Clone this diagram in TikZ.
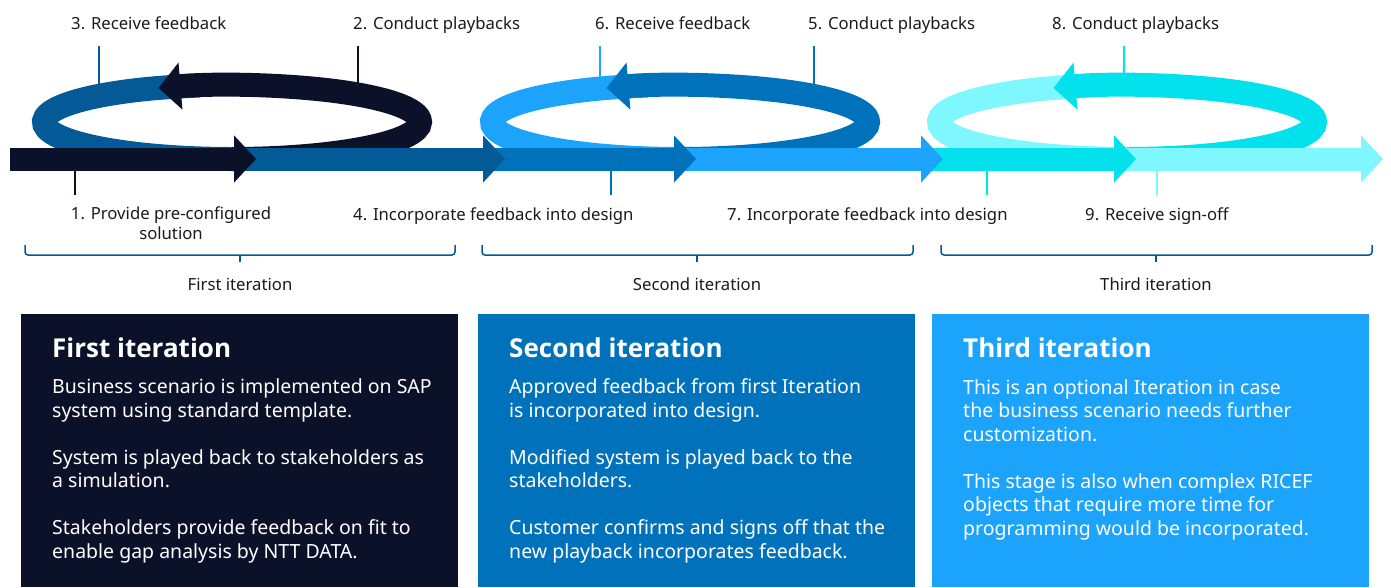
\documentclass[tikz,border=0pt]{standalone}
\usepackage{fontspec}
\setmainfont{Noto Sans}
\newfontfamily\titlefont{Open Sans}
\usepackage{tikz}
\usetikzlibrary{positioning}
\usetikzlibrary{arrows.meta,calc}

\definecolor{navy}{HTML}{0A1128}
\definecolor{blueA}{HTML}{035A96}
\definecolor{blueB}{HTML}{0072BC}
\definecolor{blueC}{HTML}{1CA3FC}
\definecolor{cyanA}{HTML}{03E1ED}
\definecolor{cyanB}{HTML}{7FF7FF}
\definecolor{ink}{HTML}{1A1A1A}

\begin{document}
\begin{tikzpicture}[x=1pt,y=1pt,
 band/.style={line width=23pt,-{Triangle[width=46pt,length=22pt]}},
 loop/.style={line width=24pt},
 loophead/.style={line width=24pt,-{Triangle[width=46pt,length=22pt]}},
 lead/.style={line width=1.5pt},
 brace/.style={line width=1.5pt,blueA,rounded corners=3pt},
 lbl/.style={font=\fontsize{16.7}{20}\selectfont,text=ink,inner sep=0pt},
 box/.style={minimum width=437pt,minimum height=273pt,inner sep=0pt,anchor=north west},
 boxtitle/.style={font=\titlefont\fontsize{26}{30}\selectfont\bfseries,text=white,inner sep=0pt,anchor=base west},
 boxtext/.style={font=\fontsize{19.5}{23.5}\selectfont,text=white,inner sep=0pt,align=left,anchor=base west}]
 \useasboundingbox (0,0) rectangle (1391,-587);

 \coordinate (e1) at (232,-122);
 \coordinate (e2) at (680,-122);
 \coordinate (e3) at (1127,-122);
 \coordinate (mid) at (0,-159);

 % leader lines
 \coordinate (t3) at (99,-46);
 \coordinate (t2) at (358,-46);
 \coordinate (t6) at (600,-46);
 \coordinate (t5) at (814,-46);
 \coordinate (t8) at (1124,-46);
 \coordinate (l3) at ($(e1)+(135:188 and 37)$);
 \coordinate (l2) at ($(e1)+(48:188 and 37)$);
 \coordinate (l6) at ($(e2)+(115:188 and 37)$);
 \coordinate (l5) at ($(e2)+(44.5:188 and 37)$);
 \coordinate (l8) at ($(e3)+(91:188 and 37)$);
 \draw[lead,blueA] (t3) -- (t3 |- l3);
 \draw[lead,navy] (t2) -- (t2 |- l2);
 \draw[lead,blueC] (t6) -- (t6 |- l6);
 \draw[lead,blueB] (t5) -- (t5 |- l5);
 \draw[lead,cyanA] (t8) -- (t8 |- l8);
 \coordinate (b1) at (75,-195);
 \coordinate (b4) at (611,-195);
 \coordinate (b7) at (987,-195);
 \coordinate (b9) at (1157,-195);
 \draw[lead,navy] (b1) -- (b1 |- mid);
 \draw[lead,blueB] (b4) -- (b4 |- mid);
 \draw[lead,cyanA] (b7) -- (b7 |- mid);
 \draw[lead,cyanB] (b9) -- (b9 |- mid);

 % loops
 \draw[loop,blueA] (e1) ++(100:188 and 37) arc[start angle=100,end angle=270,x radius=188,y radius=37];
 \draw[loophead,navy] (e1) ++(-90:188 and 37) arc[start angle=-90,end angle=113,x radius=188,y radius=37];
 \draw[loop,blueC] (e2) ++(100:188 and 37) arc[start angle=100,end angle=270,x radius=188,y radius=37];
 \draw[loophead,blueB] (e2) ++(-90:188 and 37) arc[start angle=-90,end angle=113,x radius=188,y radius=37];
 \draw[loop,cyanB] (e3) ++(100:188 and 37) arc[start angle=100,end angle=270,x radius=188,y radius=37];
 \draw[loophead,cyanA] (e3) ++(-90:188 and 37) arc[start angle=-90,end angle=113,x radius=188,y radius=37];

 % band
 \draw[band,cyanB] (1114,-159) -- (1383,-159);
 \draw[band,cyanA] (921,-159) -- (1136,-159);
 \draw[band,blueC] (674,-159) -- (943,-159);
 \draw[band,blueB] (483,-159) -- (696,-159);
 \draw[band,blueA] (234,-159) -- (505,-159);
 \draw[band,navy] (10,-159) -- (256,-159);

 \node[lbl,anchor=base west] (s3) at (71,-29.5) {3. Receive feedback};
 \node[lbl,anchor=base west] (s2) at (353,-29.5) {2. Conduct playbacks};
 \node[lbl,anchor=base west] (s6) at (595,-29.5) {6. Receive feedback};
 \node[lbl,anchor=base west] (s5) at (808,-29.5) {5. Conduct playbacks};
 \node[lbl,anchor=base west] (s8) at (1052,-29.5) {8. Conduct playbacks};
 \node[lbl,anchor=north,align=center] (s1) at (171,-207) {1. Provide pre-configured\\solution};
 \node[lbl,anchor=base west] (s4) at (353,-220.5) {4. Incorporate feedback into design};
 \node[lbl,anchor=base west] (s7) at (727,-220.5) {7. Incorporate feedback into design};
 \node[lbl,anchor=base west] (s9) at (1085,-220.5) {9. Receive sign-off};

 % braces
 \draw[brace] (25,-245) -- (25,-255) -- (455,-255) -- (455,-245);
 \draw[brace] (240,-255) -- (240,-262);
 \draw[brace] (482,-245) -- (482,-255) -- (913,-255) -- (913,-245);
 \draw[brace] (697,-255) -- (697,-262);
 \draw[brace] (941,-245) -- (941,-255) -- (1372,-255) -- (1372,-245);
 \draw[brace] (1156,-255) -- (1156,-262);
 \node[lbl,anchor=base] (it1) at (240,-290) {First iteration};
 \node[lbl,anchor=base] (it2) at (697,-290) {Second iteration};
 \node[lbl,anchor=base] (it3) at (1156,-290) {Third iteration};

 % boxes
 \node[box,fill=navy] (box1) at (21,-314) {};
 \node[box,fill=blueB] (box2) at (478,-314) {};
 \node[box,fill=blueC] (box3) at (932,-314) {};
 \node[boxtitle] (h1) at ($(box1.north west)+(31,-43.5)$) {First iteration};
 \node[boxtitle] (h2) at ($(box2.north west)+(31,-43.5)$) {Second iteration};
 \node[boxtitle] (h3) at ($(box3.north west)+(31,-43.5)$) {Third iteration};
 % base of a multi-line node is its last line
 \node[boxtext] (p1) at ($(box1.north west)+(31,-244)$) {Business scenario is implemented on SAP\\system using standard template.\\[23.5pt]System is played back to stakeholders as\\a simulation.\\[23.5pt]Stakeholders provide feedback on fit to\\enable gap analysis by NTT DATA.};
 \node[boxtext] (p2) at ($(box2.north west)+(31,-244)$) {Approved feedback from first Iteration\\is incorporated into design.\\[23.5pt]Modified system is played back to the\\stakeholders.\\[23.5pt]Customer confirms and signs off that the\\new playback incorporates feedback.};
 \node[boxtext] (p3) at ($(box3.north west)+(31,-221)$) {This is an optional Iteration in case\\the business scenario needs further\\customization.\\[23.5pt]This stage is also when complex RICEF\\objects that require more time for\\programming would be incorporated.};
\end{tikzpicture}
\end{document}
